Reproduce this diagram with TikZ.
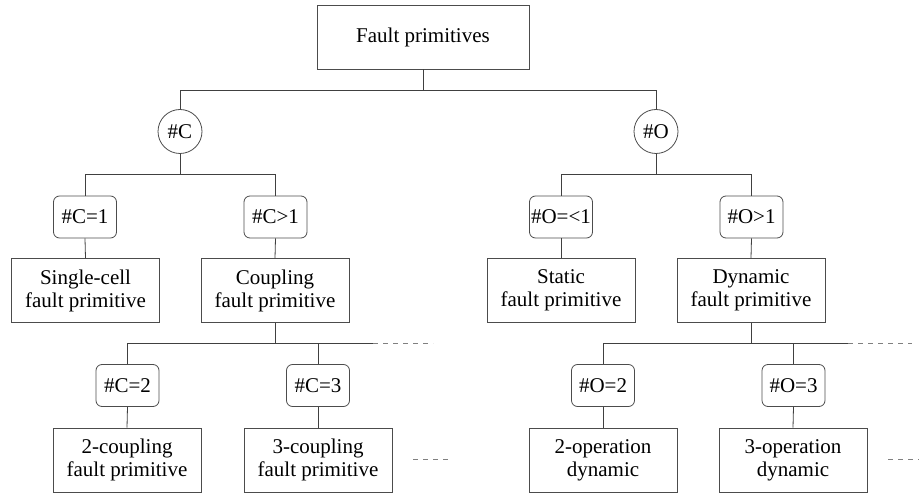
\documentclass[tikz,border=0pt]{standalone}
\usepackage{fontspec}
\setmainfont{Liberation Serif}
\begin{document}
\begin{tikzpicture}[x=1pt,y=-1pt,
  line width=0.8pt,
  every node/.style={font=\fontsize{21}{23}\selectfont, text=black},
  rectbox/.style={draw=black!70, rectangle, align=center, inner sep=0pt,
     minimum width=148pt, minimum height=64pt},
  topbox/.style={draw=black!70, rectangle, inner sep=0pt,
     minimum width=212pt, minimum height=64pt},
  condbox/.style={draw=black!70, rectangle, rounded corners=6pt, inner sep=0pt,
     minimum width=63pt, minimum height=42pt},
  circ/.style={draw=black!70, circle, inner sep=0pt, minimum size=44pt},
  conn/.style={draw=black!75},
  dashconn/.style={draw=black!50, dash pattern=on 5pt off 5pt}
]
\useasboundingbox (0,0) rectangle (919,494);

% top
\node[topbox] (top) at (423,37) {Fault primitives};
\node[circ] (cC) at (180,131.5) {\#C};
\node[circ] (cO) at (656,131.5) {\#O};

% level 2 conditions
\node[condbox] (c1) at (85,217) {\#C=1};
\node[condbox] (cg1) at (275.5,217) {\#C>1};
\node[condbox] (o1) at (561,217) {\#O=<1};
\node[condbox] (og1) at (751.5,217) {\#O>1};

% level 2 boxes
\node[rectbox] (single) at (85.5,290.5) {Single-cell\\fault primitive};
\node[rectbox] (coupling) at (275,290.5) {Coupling\\fault primitive};
\node[rectbox] (static) at (561,290.5) {Static\\fault primitive};
\node[rectbox] (dynamic) at (751,290.5) {Dynamic\\fault primitive};

% level 3 conditions
\node[condbox] (c2) at (127.5,385.5) {\#C=2};
\node[condbox] (c3) at (318,385.5) {\#C=3};
\node[condbox] (o2) at (603,385.5) {\#O=2};
\node[condbox] (o3) at (793.5,385.5) {\#O=3};

% level 3 boxes
\node[rectbox] (cp2) at (127,460) {2-coupling\\fault primitive};
\node[rectbox] (cp3) at (318,460) {3-coupling\\fault primitive};
\node[rectbox] (op2) at (603,460) {2-operation\\dynamic};
\node[rectbox] (op3) at (793,460) {3-operation\\dynamic};

% junctions
\coordinate (j0) at (423,90);
\coordinate (jC) at (180,174);
\coordinate (jO) at (656,174);
\coordinate (jCp) at (275,343);
\coordinate (jDy) at (751,343);
\coordinate (eC) at (373,343);
\coordinate (eCd) at (433,343);
\coordinate (eO) at (848,343);
\coordinate (eOd) at (912,343);
\coordinate (dC1) at (413,459);
\coordinate (dC2) at (452,459);
\coordinate (dO1) at (888,459);
\coordinate (dO2) at (919,459);

% connectors
\draw[conn] (top.south) -- (j0);
\draw[conn] (j0) -| (cC.north);
\draw[conn] (j0) -| (cO.north);

\draw[conn] (cC.south) -- (jC);
\draw[conn] (jC) -| (c1.north);
\draw[conn] (jC) -| (cg1.north);
\draw[conn] (cO.south) -- (jO);
\draw[conn] (jO) -| (o1.north);
\draw[conn] (jO) -| (og1.north);

\draw[conn] (c1.south) -- (single.north);
\draw[conn] (cg1.south) -- (coupling.north);
\draw[conn] (o1.south) -- (static.north);
\draw[conn] (og1.south) -- (dynamic.north);

\draw[conn] (coupling.south) -- (jCp);
\draw[conn] (jCp) -| (c2.north);
\draw[conn] (jCp) -| (c3.north);
\draw[conn] (jCp) -- (eC);
\draw[dashconn] (eC) -- (eCd);
\draw[conn] (dynamic.south) -- (jDy);
\draw[conn] (jDy) -| (o2.north);
\draw[conn] (jDy) -| (o3.north);
\draw[conn] (jDy) -- (eO);
\draw[dashconn] (eO) -- (eOd);

\draw[conn] (c2.south) -- (cp2.north);
\draw[conn] (c3.south) -- (cp3.north);
\draw[conn] (o2.south) -- (op2.north);
\draw[conn] (o3.south) -- (op3.north);

\draw[dashconn] (dC1) -- (dC2);
\draw[dashconn] (dO1) -- (dO2);
\end{tikzpicture}
\end{document}
